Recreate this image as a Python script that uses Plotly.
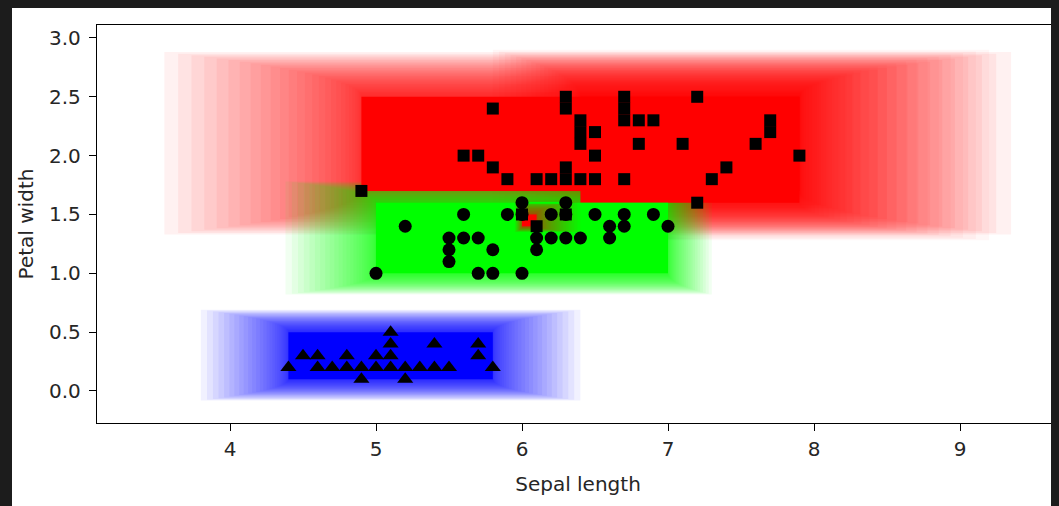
import plotly.graph_objects as go

# ---------------- data ----------------
setosa_x = [4.4, 4.5, 4.6, 4.6, 4.7, 4.8, 4.8, 4.9, 4.9, 5.0, 5.0, 5.1, 5.1, 5.1, 5.1,
            5.2, 5.2, 5.3, 5.4, 5.4, 5.5, 5.7, 5.7, 5.8]
setosa_y = [0.2, 0.3, 0.3, 0.2, 0.2, 0.3, 0.2, 0.2, 0.1, 0.3, 0.2, 0.5, 0.4, 0.3, 0.2,
            0.2, 0.1, 0.2, 0.4, 0.2, 0.2, 0.4, 0.3, 0.2]

versicolor_x = [5.0, 5.2, 5.5, 5.5, 5.5, 5.6, 5.6, 5.7, 5.7, 5.8, 5.8, 5.9, 6.0, 6.0,
                6.0, 6.1, 6.1, 6.2, 6.2, 6.3, 6.3, 6.3, 6.4, 6.5, 6.6, 6.6, 6.7, 6.7,
                6.9, 7.0]
versicolor_y = [1.0, 1.4, 1.3, 1.2, 1.1, 1.5, 1.3, 1.3, 1.0, 1.2, 1.0, 1.5, 1.6, 1.5,
                1.0, 1.3, 1.2, 1.5, 1.3, 1.6, 1.5, 1.3, 1.3, 1.5, 1.4, 1.3, 1.5, 1.4,
                1.5, 1.4]

virginica_x = [4.9, 5.6, 5.7, 5.8, 5.8, 5.9, 6.0, 6.1, 6.1, 6.2, 6.3, 6.3, 6.3, 6.3,
               6.3, 6.4, 6.4, 6.4, 6.4, 6.5, 6.5, 6.5, 6.7, 6.7, 6.7, 6.7, 6.8, 6.8,
               6.9, 7.1, 7.2, 7.2, 7.3, 7.4, 7.6, 7.7, 7.7, 7.9]
virginica_y = [1.7, 2.0, 2.0, 2.4, 1.9, 1.8, 1.5, 1.8, 1.4, 1.8, 2.5, 2.4, 1.9, 1.8,
               1.5, 2.3, 2.2, 2.1, 1.8, 2.2, 2.0, 1.8, 2.5, 2.4, 2.3, 1.8, 2.3, 2.1,
               2.3, 2.1, 2.5, 1.6, 1.8, 1.9, 2.1, 2.3, 2.2, 2.0]

# hyperboxes (min / max corners)
box_class = ["virginica", "virginica", "setosa", "versicolor", "virginica", "versicolor"]
box_xmin = [4.9, 6.4, 4.4, 5.0, 6.0, 6.0]
box_xmax = [7.9, 7.9, 5.8, 7.0, 6.1, 6.3]
box_ymin = [1.7, 1.6, 0.1, 1.0, 1.4, 1.6]
box_ymax = [2.5, 2.5, 0.5, 1.6, 1.5, 1.6]

x_ticks = [4, 5, 6, 7, 8, 9]
y_ticks = [0.0, 0.5, 1.0, 1.5, 2.0, 2.5, 3.0]

# ---------------- styling ----------------
class_rgb = {"setosa": (0, 0, 255), "versicolor": (0, 255, 0), "virginica": (255, 0, 0)}
# halo spread per box: (left, right, bottom, top, alpha per band)
halo_spread = [
    (1.35, 1.45, 0.37, 0.38, 0.055),
    (0.60, 1.30, 0.32, 0.40, 0.035),
    (0.60, 0.60, 0.18, 0.19, 0.055),
    (0.62, 0.30, 0.18, 0.18, 0.055),
    (0.05, 0.30, 0.05, 0.12, 0.035),
    (0.0, 0.0, 0.0, 0.0, 0.0),
]
N_BANDS = 28

shapes = []


def halo(i):
    r, g, b = class_rgb[box_class[i]]
    el, er, eb, et, a = halo_spread[i]
    if a <= 0:
        return
    for k in range(N_BANDS, 0, -1):
        fx = (k / N_BANDS) ** 2
        fy = (k / N_BANDS) ** 1.0
        shapes.append(dict(
            type="rect", xref="x", yref="y", layer="below",
            x0=box_xmin[i] - fx * el, x1=box_xmax[i] + fx * er,
            y0=box_ymin[i] - fy * eb, y1=box_ymax[i] + fy * et,
            fillcolor=f"rgba({r},{g},{b},{a})", line=dict(width=0)))


def core(i):
    r, g, b = class_rgb[box_class[i]]
    if box_ymax[i] - box_ymin[i] < 1e-9:
        shapes.append(dict(type="line", xref="x", yref="y", layer="below",
                           x0=box_xmin[i], x1=box_xmax[i], y0=box_ymin[i], y1=box_ymax[i],
                           line=dict(color=f"rgb({r},{g},{b})", width=2)))
    else:
        shapes.append(dict(type="rect", xref="x", yref="y", layer="below",
                           x0=box_xmin[i], x1=box_xmax[i], y0=box_ymin[i], y1=box_ymax[i],
                           fillcolor=f"rgb({r},{g},{b})", line=dict(width=0)))


for i in [0, 1, 2, 3]:
    halo(i)
for i in [0, 1, 2, 3]:
    core(i)
for i in [4, 5]:
    halo(i)
    core(i)

# figure sits at an 8px page offset; page background is dark like the screenshot frame
W, H = 1051, 498
ml, mt, mb = 89, 17, 83
pw, ph = W - ml, H - mt - mb
shapes.append(dict(type="rect", xref="paper", yref="paper", layer="above",
                   x0=-(ml + 5) / pw, x1=-(ml - 4) / pw, y0=-0.4, y1=1.2,
                   fillcolor="#1c1c1c", line=dict(width=0)))

fig = go.Figure()
fig.add_trace(go.Scatter(x=versicolor_x, y=versicolor_y, mode="markers", name="versicolor",
                         marker=dict(symbol="circle", size=13, color="black")))
fig.add_trace(go.Scatter(x=virginica_x, y=virginica_y, mode="markers", name="virginica",
                         marker=dict(symbol="square", size=12, color="black")))
fig.add_trace(go.Scatter(x=setosa_x, y=setosa_y, mode="markers", name="setosa",
                         marker=dict(symbol="triangle-up", size=14, color="black")))

font = dict(family="DejaVu Sans", size=20, color="#262626")
axis_common = dict(showgrid=False, zeroline=False, showline=True, linecolor="black",
                   linewidth=1.3, ticks="outside", ticklen=7, tickwidth=1.3,
                   tickcolor="black", tickfont=font)

fig.update_layout(
    width=W, height=H, margin=dict(l=ml, r=0, t=mt, b=mb),
    paper_bgcolor="white", plot_bgcolor="white", showlegend=False,
    shapes=shapes, font=font,
    xaxis=dict(range=[3.089, 9.678], tickvals=x_ticks, ticktext=[str(v) for v in x_ticks],
               mirror=True, ticklabelstandoff=1,
               title=dict(text="Sepal length", font=font, standoff=16),
               **axis_common),
    yaxis=dict(range=[-0.272, 3.110], tickvals=y_ticks, ticktext=[f"{v:.1f}" for v in y_ticks],
               mirror=False, ticklabelstandoff=4,
               title=dict(text="Petal width", font=font, standoff=10),
               **axis_common),
)

fig.write_html("out.html",
               post_script="document.body.style.backgroundColor='#1c1c1c';")
